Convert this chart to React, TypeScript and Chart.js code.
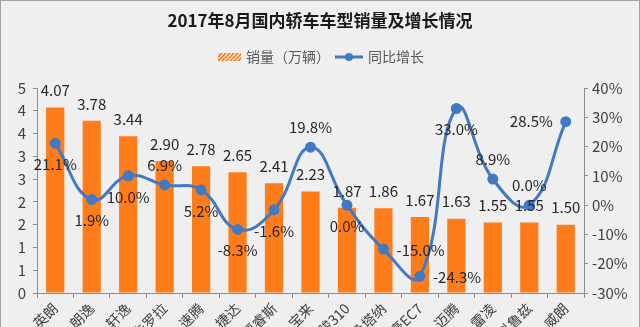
import React, { useEffect, useRef } from 'react';
import { Chart, registerables } from 'chart.js';

Chart.register(...registerables);

const titleText = '2017年8月国内轿车车型销量及增长情况';
const salesLegend = '销量（万辆）';
const growthLegend = '同比增长';
const categories = ['英朗', '朗逸', '轩逸', '卡罗拉', '速腾', '捷达', '福睿斯', '宝来', '宝骏310', '桑塔纳', '帝豪EC7', '迈腾', '雷凌', '科鲁兹', '威朗'];
const salesValues = [4.07, 3.78, 3.44, 2.90, 2.78, 2.65, 2.41, 2.23, 1.87, 1.86, 1.67, 1.63, 1.55, 1.55, 1.50];
const growthValues = [21.1, 1.9, 10.0, 6.9, 5.2, -8.3, -1.6, 19.8, 0.0, -15.0, -24.3, 33.0, 8.9, 0.0, 28.5];
const salesTickLabels = ['0', '1', '1', '2', '2', '3', '3', '4', '4', '5'];
const growthTickLabels = ['-30%', '-20%', '-10%', '0%', '10%', '20%', '30%', '40%'];
// label placement for each growth point (style, not data)
const growthLabelPlacement = ['below', 'below', 'below', 'above', 'below', 'below', 'below', 'above', 'below', 'right', 'right', 'below', 'above', 'above', 'left'];

const FONT = '"Noto Sans CJK SC", "Noto Sans", sans-serif';
const ORANGE = '#FF7C1A';
const BLUE = '#4179C2';
const TEXT = '#404040';

const decorPlugin = {
  id: 'decor',
  beforeDraw(chart: any) {
    const { ctx, width, height } = chart;
    ctx.save();
    ctx.fillStyle = '#efefef';
    ctx.fillRect(0, 0, width, height);
    ctx.strokeStyle = '#a0a0a0';
    ctx.lineWidth = 1;
    ctx.strokeRect(0.5, 0.5, width - 1, height + 10);
    ctx.restore();
  },
  afterDatasetsDraw(chart: any) {
    const { ctx } = chart;
    ctx.save();
    ctx.font = `15px ${FONT}`;
    ctx.fillStyle = '#262626';
    ctx.textBaseline = 'middle';
    const barMeta = chart.getDatasetMeta(1);
    barMeta.data.forEach((el: any, i: number) => {
      ctx.textAlign = 'center';
      ctx.fillText(salesValues[i].toFixed(2), el.x, el.y - 17);
    });
    const lineMeta = chart.getDatasetMeta(0);
    lineMeta.data.forEach((el: any, i: number) => {
      const txt = growthValues[i].toFixed(1) + '%';
      const p = growthLabelPlacement[i];
      if (p === 'above') {
        ctx.textAlign = 'center';
        ctx.fillText(txt, el.x, el.y - 20);
      } else if (p === 'below') {
        ctx.textAlign = 'center';
        ctx.fillText(txt, el.x, el.y + 21);
      } else if (p === 'right') {
        ctx.textAlign = 'left';
        ctx.fillText(txt, el.x + 13, el.y + 1);
      } else {
        ctx.textAlign = 'right';
        ctx.fillText(txt, el.x - 13, el.y);
      }
    });
    ctx.restore();
  },
  afterDraw(chart: any) {
    const { ctx, width } = chart;
    ctx.save();
    ctx.font = `14px ${FONT}`;
    const w1 = ctx.measureText(salesLegend).width;
    const w2 = ctx.measureText(growthLegend).width;
    const iconW1 = 23, iconW2 = 28, gapText = 5, gapItem = 5;
    const total = iconW1 + gapText + w1 + gapItem + iconW2 + gapText + w2;
    let x = Math.round(width / 2 - total / 2) + 1;
    const y = 57;
    // hatched bar icon
    ctx.save();
    ctx.beginPath();
    ctx.rect(x, y - 4, iconW1, 8);
    ctx.clip();
    ctx.fillStyle = ORANGE;
    ctx.fillRect(x, y - 4, iconW1, 8);
    ctx.strokeStyle = 'rgba(255,255,255,0.85)';
    ctx.lineWidth = 1.2;
    for (let k = -10; k < iconW1 + 10; k += 4) {
      ctx.beginPath();
      ctx.moveTo(x + k, y + 4);
      ctx.lineTo(x + k + 8, y - 4);
      ctx.stroke();
    }
    ctx.restore();
    x += iconW1 + gapText;
    ctx.fillStyle = '#595959';
    ctx.textBaseline = 'middle';
    ctx.textAlign = 'left';
    ctx.fillText(salesLegend, x, y);
    x += w1 + gapItem;
    ctx.strokeStyle = BLUE;
    ctx.lineWidth = 3;
    ctx.beginPath();
    ctx.moveTo(x, y);
    ctx.lineTo(x + iconW2, y);
    ctx.stroke();
    ctx.fillStyle = BLUE;
    ctx.beginPath();
    ctx.arc(x + iconW2 / 2, y, 4, 0, Math.PI * 2);
    ctx.fill();
    x += iconW2 + gapText;
    ctx.fillStyle = '#595959';
    ctx.fillText(growthLegend, x, y);
    ctx.restore();
  },
};

export default function App() {
  const ref = useRef<HTMLCanvasElement>(null);
  useEffect(() => {
    if (!ref.current) return;
    const chart = new Chart(ref.current, {
      type: 'bar',
      data: {
        labels: categories,
        datasets: [
          {
            type: 'line',
            label: growthLegend,
            data: growthValues,
            yAxisID: 'y1',
            borderColor: BLUE,
            backgroundColor: BLUE,
            borderWidth: 3,
            pointRadius: 4,
            pointBackgroundColor: BLUE,
            pointBorderColor: BLUE,
            tension: 0.45,
            order: 0,
            clip: false as any,
          } as any,
          {
            type: 'bar',
            label: salesLegend,
            data: salesValues,
            yAxisID: 'y',
            backgroundColor: ORANGE,
            categoryPercentage: 1,
            barPercentage: 0.5,
            order: 1,
          },
        ],
      },
      options: {
        responsive: false,
        animation: false,
        devicePixelRatio: 1,
        layout: { padding: 0 },
        plugins: {
          legend: { display: false },
          tooltip: { enabled: false },
          title: {
            display: true,
            text: titleText,
            color: '#1a1a1a',
            font: { family: FONT, size: 17, weight: 'bold' },
            padding: { top: 10.5, bottom: 57.1 },
          },
        },
        scales: {
          x: {
            grid: { display: true, drawOnChartArea: false, offset: true, tickLength: 5, color: '#8c8c8c' },
            border: { color: '#8c8c8c' },
            ticks: {
              autoSkip: false,
              maxRotation: 45,
              minRotation: 45,
              padding: 2,
              color: TEXT,
              font: { family: FONT, size: 14 },
            },
            afterFit(scale: any) {
              scale.height = 34;
              scale.paddingLeft = 0;
              scale.paddingRight = 0;
            },
          },
          y: {
            position: 'left',
            min: 0,
            max: 4.5,
            grid: { drawOnChartArea: false, tickLength: 4, color: '#8c8c8c' },
            border: { color: '#8c8c8c' },
            ticks: {
              stepSize: 0.5,
              padding: 7,
              color: TEXT,
              font: { family: FONT, size: 15 },
              callback: (_v: any, i: number) => salesTickLabels[i],
            },
            afterFit(scale: any) {
              scale.width = 37;
            },
          },
          y1: {
            position: 'right',
            min: -30,
            max: 40,
            grid: { drawOnChartArea: false, tickLength: 4, color: '#8c8c8c' },
            border: { color: '#8c8c8c' },
            ticks: {
              stepSize: 10,
              padding: 4,
              color: TEXT,
              font: { family: FONT, size: 15 },
              callback: (_v: any, i: number) => growthTickLabels[i],
            },
            afterFit(scale: any) {
              scale.width = 56;
            },
          },
        },
      },
      plugins: [decorPlugin],
    });
    return () => chart.destroy();
  }, []);
  return (
    <div style={{ position: 'fixed', left: 0, top: 0, width: 640, height: 327, overflow: 'hidden' }}>
      <canvas ref={ref} width={640} height={327} style={{ display: 'block', width: 640, height: 327 }} />
    </div>
  );
}
